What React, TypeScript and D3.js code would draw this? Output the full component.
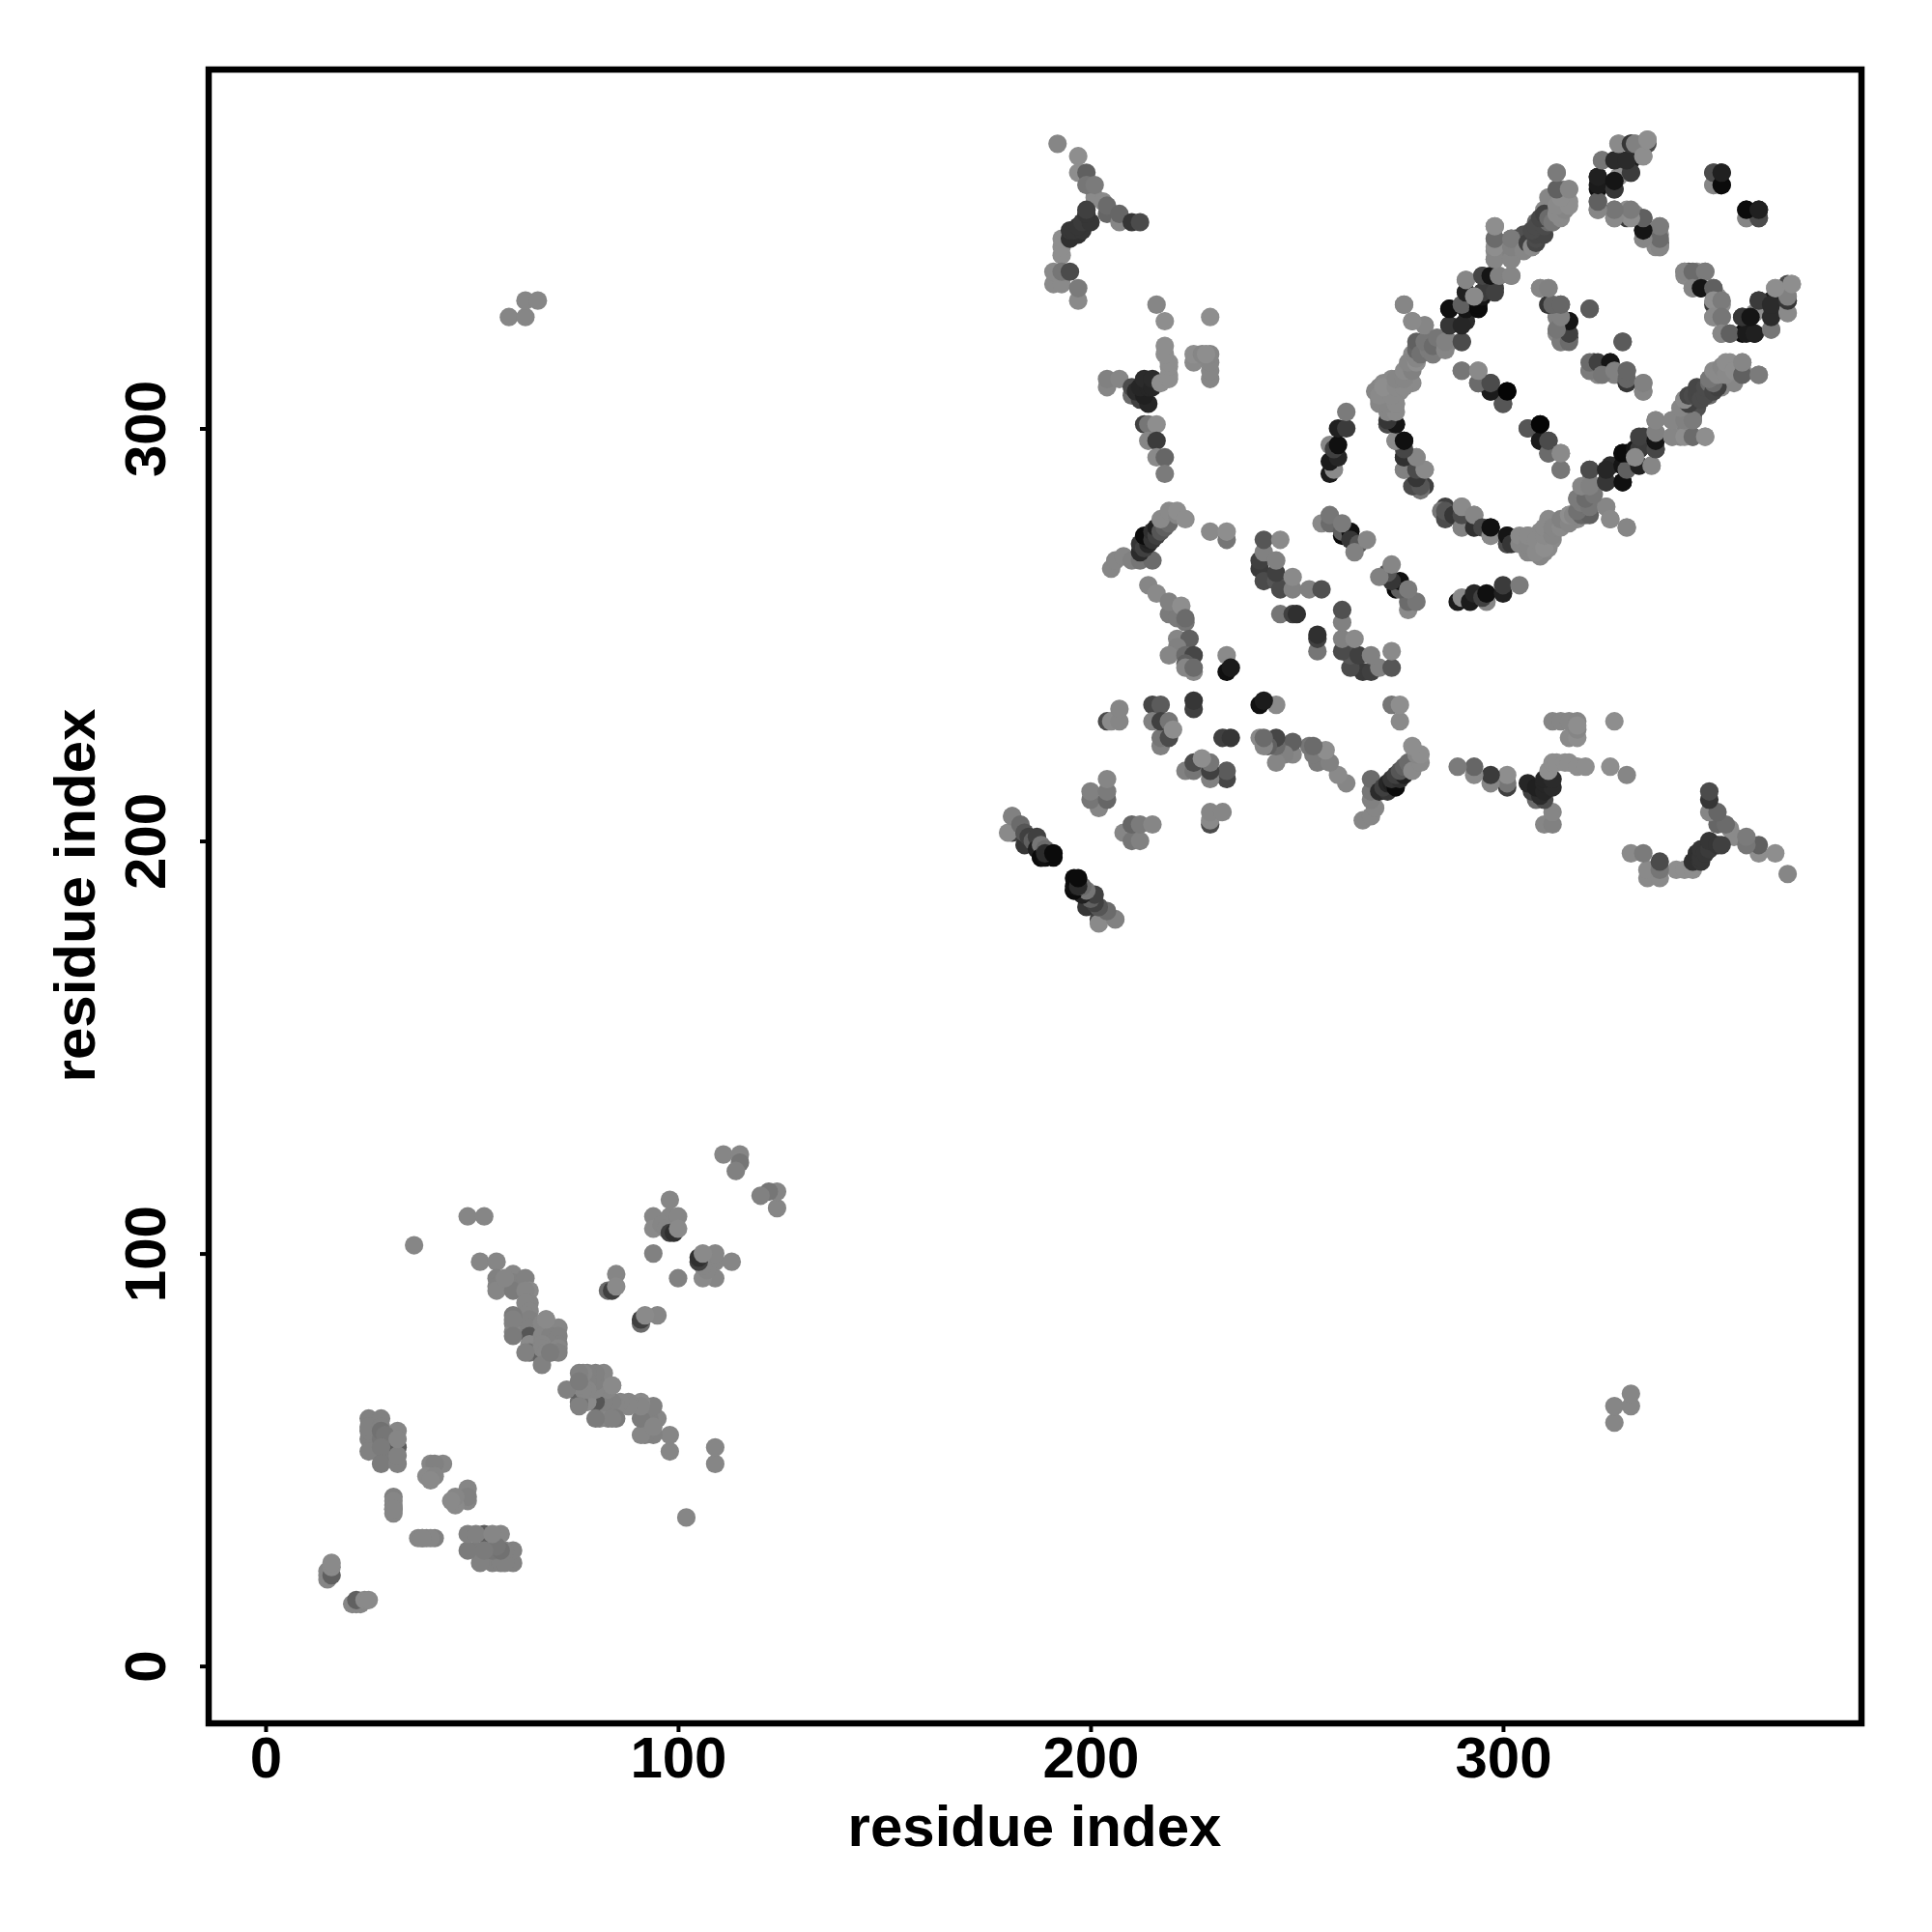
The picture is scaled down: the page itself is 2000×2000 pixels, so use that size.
import React, { useEffect, useRef } from "react";
import * as d3 from "d3";

// [residue i, residue j, grey level], i < j; the map is symmetric so each one is drawn twice
type Contact = [number, number, number];

const WIDTH = 2000;
const HEIGHT = 2000;
const TICKS = [0, 100, 200, 300];
const AXIS_LABEL = "residue index";

const nTerminalContacts: Contact[] = [
  [15,22,125],[15,21,125],[15,23,125],[16,22,90],[16,24,130],[16,25,130],
  [28,51,115],[25,55,120],[25,60,120],[28,60,120],[25,57,120],[25,58,120],[25,52,120],[28,55,110],[28,58,120],[28,57,105],[32,57,125],[29,56,110],[32,53,85],[28,53,115],[28,49,115],[32,49,120],[32,51,120],[32,55,125],
  [40,49,125],[43,49,125],[41,49,120],[39,46,130],[41,46,125],[40,45,130],
  [31,41,120],[31,38,115],[31,39,120],[31,40,125],[31,37,125],[31,38,125],
  [36,102,125],[49,109,125],[53,109,125],[52,98,125],[56,98,125],[56,94,120],[56,92,120],[56,91,125],[60,95,125],[60,93,120],[60,91,115],[58,94,125],[63,94,120],[64,91,130],[63,91,125],[64,88,125],[63,88,125],[64,86,125],[63,85,125],[64,84,120],[60,85,115],[60,83,120],[60,81,125],[64,82,120],[64,80,80],[64,78,130],[64,76,105],[68,84,135],[69,82,125],[71,82,125],[67,83,125],[67,80,125],[69,80,120],[71,80,120],[71,78,120],[69,78,120],[67,78,125],[71,77,125],[69,76,125],[67,75,90],[67,77,125],[68,76,125],[67,73,120],[71,76,120],[69,76,115],[68,84,130],[63,76,120],[60,84,120],[60,80,115],
  [111,124,125],[115,124,125],[115,122,110],[114,120,120],
  [98,113,125],[94,109,125],[98,109,125],[100,109,125],[94,106,130],[96,107,125],[97,106,125],[98,105,60],[99,105,45],[100,106,130],[94,100,120],
  [83,91,100],[84,91,60],[85,95,125],[85,92,130],
  [59,327,125],[63,327,125],[63,331,125],[66,331,125],
];

const hairpinContacts: Contact[] = [
  [181,202,60],[184,199,50],[180,202,130],[181,206,125],[181,206,120],[183,204,100],[184,202,100],[184,202,80],[185,201,60],[186,200,90],[187,201,60],[187,198,30],[188,199,110],[188,196,20],[188,196,10],[189,198,100],[189,196,15],[191,196,10],[189,197,40],[191,197,10],
];

const crossContacts: Contact[] = [
  [192,369,125],[197,366,135],[197,362,135],[199,362,90],[201,356,130],[199,359,110],[201,359,115],[203,355,130],[204,352,95],[204,354,100],[207,350,125],[207,352,95],[210,350,50],[212,350,70],
  [193,342,135],[193,344,135],[193,346,135],[195,346,45],[197,347,45],[195,348,50],[196,348,50],[198,348,50],[197,349,50],[198,350,55],[200,350,50],[199,352,50],[199,353,60],
  [191,335,130],[193,335,130],[191,338,130],[193,338,110],[195,338,70],[197,331,130],[197,334,115],
  [216,330,125],[218,326,135],[229,327,135],
  [204,310,125],[204,312,120],[207,312,125],[210,308,100],[210,310,70],[212,307,60],[214,306,35],[211,309,40],[213,308,30],[212,310,35],[214,310,35],[213,312,40],[215,310,35],[215,312,40],[217,311,135],
  [219,312,135],[219,313,135],[219,315,135],[219,316,135],[218,318,135],[218,320,135],
  [213,301,60],[214,301,110],[216,301,135],[214,297,125],[216,297,55],[216,293,130],[218,293,95],[218,289,115],
  [225,316,130],[225,318,135],[229,312,125],[229,314,125],[229,316,125],[227,318,125],[229,318,125],[228,318,135],
  [258,289,25],[259,290,130],[258,292,25],[260,293,35],[258,296,125],[259,295,60],[260,296,15],[260,300,30],[262,300,55],[262,304,115],
  [205,266,125],[206,268,125],[208,269,125],[210,268,120],[212,268,110],[215,268,100],[212,270,40],[212,272,50],[213,271,60],[214,272,35],[214,273,30],[213,274,10],[215,273,50],[215,275,45],[216,274,60],[216,276,30],[217,275,80],[218,276,90],[219,277,100],[217,278,130],[219,280,130],[221,279,125],[221,280,135],[223,278,135],
  [229,275,130],[233,273,110],[233,275,135],
  [214,262,125],[216,260,130],[219,255,115],[219,258,120],[221,254,115],[222,257,135],[223,253,110],[223,254,100],
  [221,249,125],[224,249,90],[221,247,120],[219,245,125],[223,245,100],[225,245,65],[225,241,130],[223,243,90],[223,242,125],[225,242,100],
  [233,245,130],[233,241,15],[234,242,25],
  [215,233,65],[217,233,85],[225,232,60],[225,234,50],[204,229,70],[205,229,130],[207,229,125],[207,232,125],
  [217,223,120],[217,225,110],[215,229,120],[217,229,60],[219,225,70],[219,229,110],[220,227,135],
  [202,208,125],[200,210,110],[204,210,95],[200,212,120],[204,212,115],[204,215,125],
];

const ringContacts: Contact[] = [
  [241,266,55],[241,268,60],[242,263,70],[245,263,80],[246,261,70],[245,265,60],[242,270,120],[245,268,120],[242,273,80],[246,273,130],[249,261,120],[249,264,130],[253,261,120],[256,261,75],
  [246,255,110],[249,255,60],[250,255,45],
  [256,277,130],[258,277,100],[258,279,110],[261,274,10],[261,275,90],[263,275,15],[261,277,115],[263,273,50],[265,272,80],[264,270,120],[267,273,125],
  [270,307,125],[270,310,125],[269,309,125],[271,308,125],[271,311,130],[273,309,125],[275,309,130],[272,301,70],[272,306,25],[274,301,20],[274,306,125],[273,312,130],[275,311,125],[276,313,130],[278,311,130],[277,314,130],[279,316,135],[278,318,130],[280,319,125],[283,318,120],
  [274,297,90],[276,297,5],[276,293,50],[279,293,130],[276,290,120],[279,286,100],[281,286,60],[280,285,110],[281,290,125],
  [276,330,120],[278,326,125],[281,325,125],[279,320,110],[281,320,100],[283,321,130],[287,321,120],[290,321,70],
  [287,325,30],[291,326,40],[287,329,15],[291,329,5],[294,329,10],[292,332,15],[291,333,70],[295,333,5],[291,336,125],[295,337,60],[298,334,60],[299,337,115],[302,337,130],
  [298,341,130],[298,343,125],[298,346,100],[298,349,135],[302,341,105],[302,343,120],[302,346,110],
  [304,344,110],[307,344,120],[303,346,70],[305,345,85],[305,347,75],[306,345,70],[307,346,70],[309,347,70],[308,348,80],[310,349,80],[308,350,100],[310,350,90],
  [312,350,125],[310,352,125],[310,353,130],[312,354,130],[311,356,125],[314,352,125],[314,355,135],[316,355,135],[314,358,120],[316,358,120],[313,362,125],
  [286,278,70],[286,280,80],[288,279,50],[290,276,120],[290,279,70],[290,281,130],[293,276,45],[293,279,125],[295,276,65],[297,274,130],[297,276,15],[301,272,70],[301,274,20],[302,272,50],[304,272,125],[304,274,130],[306,270,125],[306,272,125],[306,274,130],[308,270,130],[308,273,130],[310,271,135],[310,274,130],[310,276,130],[312,274,125],[312,276,125],[314,276,130],[314,278,120],[316,277,125],[316,279,135],
  [317,279,125],[319,279,95],[321,279,90],[318,280,105],[319,282,115],[321,281,110],[325,281,125],[318,283,115],[320,283,100],[322,284,110],[319,286,125],[321,286,120],[326,278,130],[330,276,125],
  [321,290,70],[325,287,50],[325,290,35],[329,287,15],[329,291,20],[330,290,90],[329,294,10],[330,294,10],[332,295,20],[333,291,30],[333,295,55],[333,298,60],[332,293,130],[336,291,125],
  [337,295,65],[337,297,20],[337,299,120],[337,302,125],[341,298,125],[341,302,125],[344,298,135],[346,298,100],[344,302,120],[346,302,115],[349,298,135],[343,305,125],
  [345,306,60],[344,307,130],[345,308,65],[346,308,70],[347,308,65],[347,310,65],[348,307,70],[349,308,70],[349,310,70],[350,311,100],[351,309,65],[352,310,60],[351,311,100],[350,312,110],[351,314,130],[352,313,130],[353,315,125],[354,313,130],[354,316,135],[356,314,135],[358,313,90],[358,316,125],[362,313,115],
];

const innerContacts: Contact[] = [
  [290,314,115],[294,311,85],[294,314,135],[297,309,40],[297,311,60],[300,306,75],[300,308,60],[301,309,5],
  [306,300,80],[309,297,25],[309,301,5],[311,294,100],[311,297,70],[314,290,110],[314,294,130],
  [309,334,125],[311,334,130],[311,330,90],[314,330,90],[313,327,120],[316,326,20],[314,321,110],[313,323,130],[316,322,40],
  [321,329,90],[329,321,85],
  [321,314,115],[321,316,100],[323,316,60],[326,316,20],[324,313,110],[327,314,120],[330,311,50],[330,312,95],[330,314,95],[334,309,125],[334,311,120],
  [323,353,125],[323,355,90],[323,358,15],[327,358,55],[323,361,30],[324,365,115],[328,365,40],[331,365,25],[329,362,60],[331,362,60],[328,361,135],
  [331,369,55],[328,369,135],[332,369,110],[335,369,70],[335,370,135],[334,366,135],
  [327,351,125],[327,353,115],[330,351,55],[330,353,135],[332,352,135],[334,346,125],[334,348,25],[334,351,90],[338,344,125],[338,345,70],[338,347,135],[338,349,105],
  [351,359,135],[351,362,70],[353,362,30],[353,359,10],[359,351,125],[362,351,70],[359,353,10],[362,353,30],
  [344,337,130],[344,338,125],[346,338,100],[349,338,115],[346,334,125],[348,334,20],[351,334,90],[351,331,135],[353,331,115],[351,327,130],[353,327,110],
  [353,323,125],[355,323,90],[359,323,25],[361,323,30],[358,327,50],[360,327,20],[362,331,55],[365,324,110],[365,327,40],[365,330,40],[369,328,130],[369,331,50],[369,332,120],[366,334,135],[370,335,135],
];

const contacts: Contact[] = [
  ...nTerminalContacts,
  ...hairpinContacts,
  ...crossContacts,
  ...ringContacts,
  ...innerContacts,
];

export default function App() {
  const ref = useRef<SVGSVGElement>(null);

  useEffect(() => {
    const container = ref.current;

    if (!container) return;

    const svg = d3.select(container);
    svg.selectAll("*").remove();

    const xScale = d3.scaleLinear().domain([-13.8, 386.9]).range([216, 1927]);
    const yScale = d3.scaleLinear().domain([-13.9, 387]).range([1784, 72]);
    const greyScale = d3.scaleLinear().domain([0, 125, 135]).range([0, 134, 142]);

    // both halves of the map
    const points = contacts.flatMap(([i, j, grey]) => [
      { x: i, y: j, grey },
      { x: j, y: i, grey },
    ]);

    svg
      .append("g")
      .selectAll("circle")
      .data(points)
      .enter()
      .append("circle")
      .attr("cx", (d) => xScale(d.x))
      .attr("cy", (d) => yScale(d.y))
      .attr("r", 9.6)
      .attr("fill", (d) => {
        const g = greyScale(d.grey);
        return d3.rgb(g, g, g).formatHex();
      });

    // axes

    const xAxis = d3.axisBottom(xScale).tickValues(TICKS).tickSize(9).tickFormat(d3.format("d"));
    const yAxis = d3.axisLeft(yScale).tickValues(TICKS).tickSize(9).tickFormat(d3.format("d"));

    const xGroup = svg.append("g").attr("transform", "translate(0, 1784)").call(xAxis);
    const yGroup = svg.append("g").attr("transform", "translate(216, 0)").call(yAxis);

    xGroup.select(".domain").remove();
    yGroup.select(".domain").remove();
    svg.selectAll(".tick line").attr("stroke", "#000").attr("stroke-width", 4);

    xGroup
      .selectAll("text")
      .attr("y", 56)
      .attr("dy", 0)
      .attr("font-family", "Liberation Sans")
      .attr("font-weight", "bold")
      .attr("font-size", 60)
      .attr("fill", "#000");

    // R style: y tick labels run along the axis
    yGroup
      .selectAll(".tick text")
      .attr("x", 0)
      .attr("dy", 0)
      .attr("text-anchor", "middle")
      .attr("transform", "translate(-45, 0) rotate(-90)")
      .attr("font-family", "Liberation Sans")
      .attr("font-weight", "bold")
      .attr("font-size", 60)
      .attr("fill", "#000")
      .attr("y", 0);

    svg
      .append("rect")
      .attr("x", 216)
      .attr("y", 72)
      .attr("width", 1711)
      .attr("height", 1712)
      .attr("fill", "none")
      .attr("stroke", "#000")
      .attr("stroke-width", 6.5);

    svg
      .append("text")
      .attr("x", 1071)
      .attr("y", 1911)
      .attr("text-anchor", "middle")
      .attr("font-family", "Liberation Sans")
      .attr("font-weight", "bold")
      .attr("font-size", 60)
      .text(AXIS_LABEL);

    svg
      .append("text")
      .attr("transform", "translate(98, 927) rotate(-90)")
      .attr("text-anchor", "middle")
      .attr("font-family", "Liberation Sans")
      .attr("font-weight", "bold")
      .attr("font-size", 60)
      .text(AXIS_LABEL);
  }, []);

  return (
    <svg
      ref={ref}
      width={WIDTH}
      height={HEIGHT}
      style={{ position: "absolute", left: 0, top: 0, background: "#fff" }}
    />
  );
}
